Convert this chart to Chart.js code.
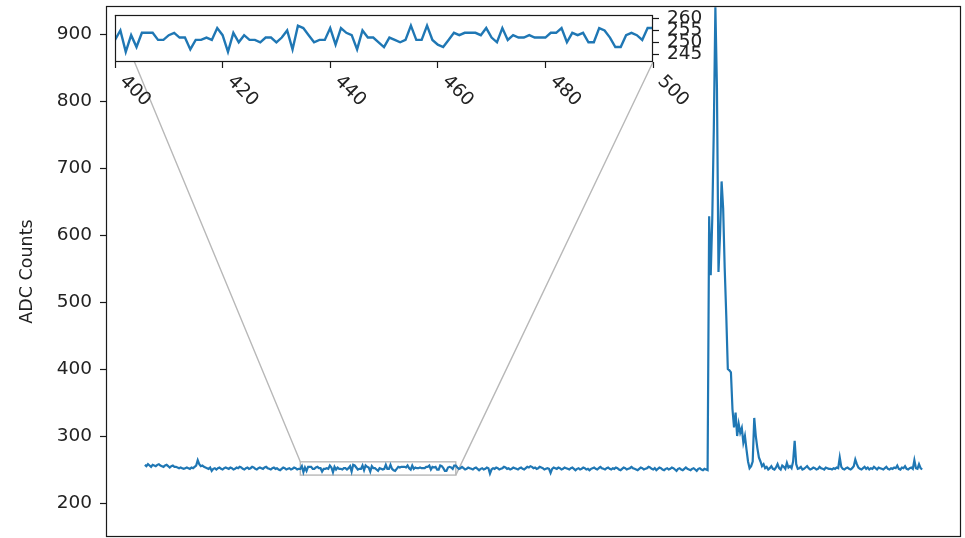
<!DOCTYPE html>
<html>
<head>
<meta charset="utf-8">
<title>ADC Counts</title>
<script src="https://cdn.jsdelivr.net/npm/chart.js@4.4.0/dist/chart.umd.min.js"></script>
<style>
    html, body { margin: 0; padding: 0; background: #fff; }
    #wrap { position: relative; width: 965px; height: 538px; overflow: hidden; }
    #mainChart { position: absolute; left: 0; top: 0; }
    #insetChart { position: absolute; left: 100px; top: 0; }
</style>
</head>
<body>
<div id="wrap">
    <canvas id="mainChart" width="965" height="538"></canvas>
    <canvas id="insetChart" width="620" height="120"></canvas>
</div>
<script>
// ===============================
// Sample data (one reading per sample index)
// ===============================
const leadStart = 300;
const leadCounts = [
    257, 255, 258, 256, 254, 257, 256, 255, 257, 258, 256, 255, 254, 256, 257, 255, 253, 255, 256, 254,
    254, 253, 252, 253, 252, 251, 252, 253, 252, 251, 253, 252, 254, 256, 264, 258, 255, 256, 254, 253,
    252, 251, 253, 248, 251, 252, 250, 252, 253, 251, 250, 252, 253, 252, 251, 253, 252, 250, 251, 253,
    252, 254, 253, 251, 250, 252, 253, 251, 252, 254, 253, 251, 250, 252, 253, 252, 251, 253, 254, 252,
    251, 250, 252, 253, 251, 252, 250, 249, 251, 253, 252, 250, 251, 252, 250, 251, 253, 252, 250, 251
];

const zoomStart = 400;
const zoomCounts = [
    251, 255, 246, 253, 248, 254, 254, 254, 251, 251,
    253, 254, 252, 252, 247, 251, 251, 252, 251, 256,
    253, 246, 254, 250, 253, 251, 251, 250, 252, 252,
    250, 252, 255, 247, 257, 256, 253, 250, 251, 251,
    256, 249, 256, 254, 253, 247, 255, 252, 252, 250,
    248, 252, 251, 250, 251, 257, 251, 251, 257, 251,
    249, 248, 251, 254, 253, 254, 254, 254, 253, 256,
    252, 250, 256, 251, 253, 252, 252, 253, 252, 252,
    252, 254, 254, 256, 250, 254, 253, 254, 250, 250,
    256, 255, 252, 248, 248, 253, 254, 253, 251, 256,
    256
];

const preRiseStart = 501;
const preRiseCounts = [
    253, 251, 252, 254, 252, 250, 251, 253, 252, 251, 250, 252, 253, 251, 249, 251, 252, 250, 251, 253,
    252, 244, 250, 252, 251, 253, 252, 250, 251, 252, 254, 253, 251, 252, 250, 251, 253, 252, 251, 250,
    252, 253, 251, 250, 252, 254, 253, 255, 254, 252, 253, 251, 252, 254, 253, 252, 250, 251, 252, 251,
    245, 251, 253, 252, 251, 253, 252, 250, 251, 253, 252, 251, 250, 252, 253, 251, 249, 251, 252, 250,
    251, 253, 252, 250, 251, 249, 251, 252, 253, 251, 250, 252, 254, 252, 251, 250, 252, 253, 251, 250,
    252, 251, 253, 252, 250, 249, 251, 253, 252, 250, 251, 252, 254, 252, 251, 250, 249, 251, 253, 252,
    250, 251, 252, 254, 253, 251, 250, 252, 249, 251, 253, 252, 250, 249, 251, 252, 250, 251, 253, 252,
    250, 248, 251, 252, 250, 249, 251, 253, 251, 250, 249, 251, 252, 250, 248, 251, 252, 250, 249, 251,
    250, 249
];

const pulseStart = 663;
const pulseCounts = [
    628, 540, 625, 760, 940, 820, 545, 600, 680, 640,
    550, 480, 400, 398, 395, 340, 313, 335, 300, 318,
    305, 312, 290, 300, 280, 262, 252, 255, 262, 327,
    300, 282, 268, 262, 255, 258, 252, 254
];

const tailStart = 701;
const tailCounts = [
    250, 252, 255, 251, 250, 253, 258, 252, 250, 256, 254, 251, 260, 253, 255, 252, 262, 293, 258, 251,
    252, 254, 250, 251, 253, 255, 252, 250, 251, 253, 252, 250, 251, 254, 252, 251, 250, 253, 252, 251,
    251, 250, 252, 251, 253, 252, 268, 254, 251, 250, 252, 253, 251, 250, 252, 255, 265, 258, 253, 251,
    250, 252, 254, 251, 253, 250, 252, 251, 254, 252, 250, 253, 252, 251, 250, 252, 254, 251, 250, 252,
    251, 253, 252, 256, 251, 250, 253, 252, 255, 251, 250, 252, 253, 251, 264, 252, 251, 258, 252, 250
];

// axis ranges and ticks
const mainXRange = [275, 825];
const mainYRange = [149.3, 941.8];
const mainYTicks = [200, 300, 400, 500, 600, 700, 800, 900];

const zoomXRange = [400, 500];
const zoomYRange = [241.7, 261.5];
const zoomXTicks = [400, 420, 440, 460, 480, 500];
const zoomYTicks = [245, 250, 255, 260];

const lineColor = '#1f77b4';
const textColor = '#222';
const tickFont = { family: 'DejaVu Sans', size: 18.5 };

function toPoints(start, counts) {
    return counts.map((v, i) => ({ x: start + i, y: v }));
}

const allPoints = [
    ...toPoints(leadStart, leadCounts),
    ...toPoints(zoomStart, zoomCounts),
    ...toPoints(preRiseStart, preRiseCounts),
    ...toPoints(pulseStart, pulseCounts),
    ...toPoints(tailStart, tailCounts)
];
const zoomPoints = allPoints.filter(p => p.x >= zoomXRange[0] && p.x <= zoomXRange[1]);

// keep the plot box where we put it (no extra room for half-labels)
function noLabelPad(axis) {
    axis.paddingTop = 0;
    axis.paddingBottom = 0;
    axis.paddingLeft = 0;
    axis.paddingRight = 0;
}

// ===============================
// Shared plugins
// ===============================
const frameBox = {
    id: 'frameBox',
    beforeDraw(chart, args, opts) {
        if (!opts.fill) return;
        const a = chart.chartArea;
        chart.ctx.save();
        chart.ctx.fillStyle = opts.fill;
        chart.ctx.fillRect(a.left, a.top, a.right - a.left, a.bottom - a.top);
        chart.ctx.restore();
    },
    afterDraw(chart) {
        const a = chart.chartArea;
        const ctx = chart.ctx;
        ctx.save();
        ctx.strokeStyle = '#1a1a1a';
        ctx.lineWidth = 1.2;
        ctx.strokeRect(Math.round(a.left) + 0.5, Math.round(a.top) + 0.5,
            Math.round(a.right - a.left) - 1, Math.round(a.bottom - a.top) - 1);
        ctx.restore();
    }
};

// rotated labels under the zoom panel
const slantLabels = {
    id: 'slantLabels',
    afterDraw(chart) {
        const ctx = chart.ctx;
        const xs = chart.scales.x;
        const base = chart.chartArea.bottom;
        ctx.save();
        ctx.font = `${tickFont.size}px ${tickFont.family}`;
        ctx.fillStyle = textColor;
        ctx.textAlign = 'left';
        ctx.textBaseline = 'top';
        zoomXTicks.forEach(v => {
            const px = xs.getPixelForValue(v);
            ctx.save();
            ctx.translate(px + 14, base + 10);
            ctx.rotate(Math.PI / 4);
            ctx.fillText(String(v), 0, 0);
            ctx.restore();
        });
        ctx.restore();
    }
};

// ===============================
// Zoom panel
// ===============================
const insetCanvas = document.getElementById('insetChart');
const insetOffset = { left: 100, top: 0 };

const insetChart = new Chart(insetCanvas.getContext('2d'), {
    type: 'line',
    data: {
        datasets: [{
            data: zoomPoints,
            borderColor: lineColor,
            borderWidth: 2.4,
            pointRadius: 0,
            tension: 0,
            fill: false
        }]
    },
    options: {
        responsive: false,
        animation: false,
        devicePixelRatio: 1,
        layout: { padding: { left: 15, top: 15, right: 0, bottom: 0 } },
        plugins: {
            legend: { display: false },
            tooltip: { enabled: false },
            frameBox: { fill: '#ffffff' }
        },
        scales: {
            x: {
                type: 'linear',
                min: zoomXRange[0],
                max: zoomXRange[1],
                afterBuildTicks: axis => { axis.ticks = zoomXTicks.map(v => ({ value: v })); },
                afterFit: axis => { axis.height = 58; noLabelPad(axis); },
                grid: { drawOnChartArea: false, tickLength: 6, tickColor: '#1a1a1a', tickWidth: 1.2 },
                border: { display: false },
                ticks: { display: false }
            },
            y: {
                position: 'right',
                min: zoomYRange[0],
                max: zoomYRange[1],
                afterBuildTicks: axis => { axis.ticks = zoomYTicks.map(v => ({ value: v })); },
                afterFit: axis => { axis.width = 67; noLabelPad(axis); },
                grid: { drawOnChartArea: false, tickLength: 6, tickColor: '#1a1a1a', tickWidth: 1.2 },
                border: { display: false },
                ticks: { autoSkip: false, color: textColor, font: tickFont, padding: 8 }
            }
        }
    },
    plugins: [frameBox, slantLabels]
});

// ===============================
// Main trace with the zoom window marked
// ===============================
const zoomMarker = {
    id: 'zoomMarker',
    beforeDatasetsDraw(chart) {
        const { x, y } = chart.scales;
        const ctx = chart.ctx;
        const rl = x.getPixelForValue(zoomXRange[0]);
        const rr = x.getPixelForValue(zoomXRange[1]);
        const rt = y.getPixelForValue(zoomYRange[1]);
        const rb = y.getPixelForValue(zoomYRange[0]);
        const ia = insetChart.chartArea;
        const il = ia.left + insetOffset.left, it = ia.top + insetOffset.top;
        const ir = ia.right + insetOffset.left, ib = ia.bottom + insetOffset.top;

        ctx.save();
        ctx.strokeStyle = '#b8b8b8';
        ctx.lineWidth = 1.4;
        ctx.strokeRect(rl, rt, rr - rl, rb - rt);
        ctx.beginPath();
        ctx.moveTo(il, it);
        ctx.lineTo(rl, rt);
        ctx.moveTo(ir, ib);
        ctx.lineTo(rr, rb);
        ctx.stroke();
        ctx.restore();
    }
};

new Chart(document.getElementById('mainChart').getContext('2d'), {
    type: 'line',
    data: {
        datasets: [{
            data: allPoints,
            borderColor: lineColor,
            borderWidth: 2.2,
            pointRadius: 0,
            tension: 0,
            fill: false
        }]
    },
    options: {
        responsive: false,
        animation: false,
        devicePixelRatio: 1,
        layout: { padding: { left: 0, top: 6, right: 4, bottom: 1 } },
        plugins: {
            legend: { display: false },
            tooltip: { enabled: false },
            frameBox: {}
        },
        scales: {
            x: {
                type: 'linear',
                min: mainXRange[0],
                max: mainXRange[1],
                display: false
            },
            y: {
                min: mainYRange[0],
                max: mainYRange[1],
                afterBuildTicks: axis => { axis.ticks = mainYTicks.map(v => ({ value: v })); },
                afterFit: axis => { axis.width = 106; noLabelPad(axis); },
                grid: { drawOnChartArea: false, tickLength: 6, tickColor: '#1a1a1a', tickWidth: 1.2 },
                border: { display: false },
                ticks: { color: textColor, font: tickFont, padding: 8 },
                title: {
                    display: true,
                    text: 'ADC Counts',
                    color: textColor,
                    font: { family: 'DejaVu Sans', size: 17.5 },
                    padding: { top: 17, bottom: 0 }
                }
            }
        }
    },
    plugins: [frameBox, zoomMarker]
});
</script>
</body>
</html>
